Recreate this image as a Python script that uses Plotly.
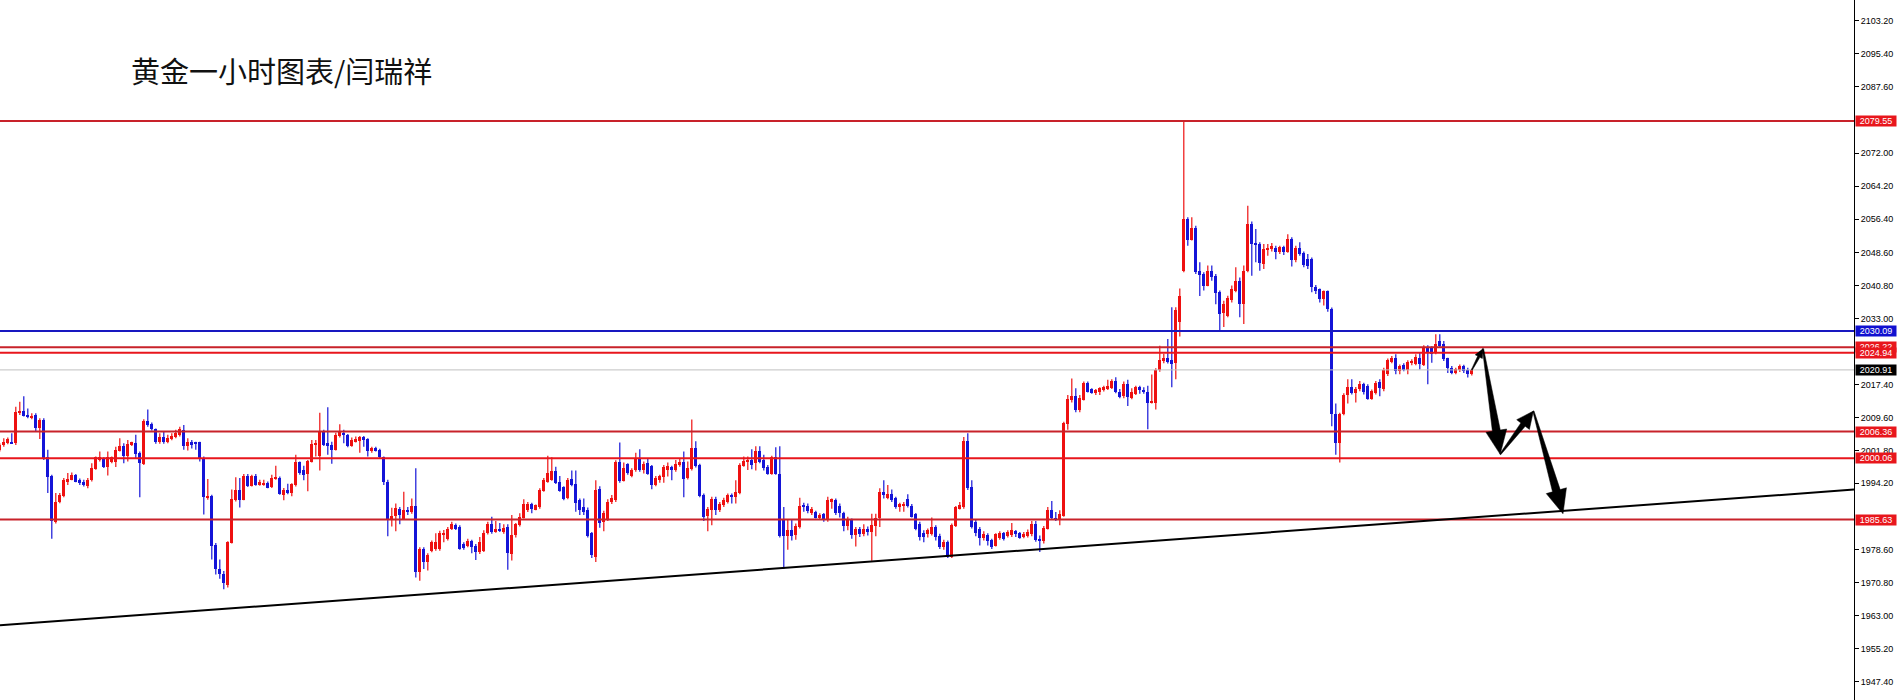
import math
import plotly.graph_objects as go

title_text = "黄金一小时图表/闫瑞祥"

opens = [
    2002.1, 2003.2, 2003.6, 2004.0, 2003.6, 2010.7, 2011.2, 2010.3, 2009.5, 2010.3,
    2007.1, 2009.1, 2000.3, 1995.8, 1985.0, 1989.7, 1991.1, 1994.6, 1995.0, 1996.2,
    1995.0, 1994.6, 1993.6, 1994.9, 1997.5, 1999.7, 2000.1, 1998.0, 1999.3, 1999.3,
    2001.9, 2003.0, 2000.6, 2003.2, 2003.6, 2001.3, 1998.8, 2008.9, 2008.2, 2006.9,
    2003.8, 2005.0, 2004.0, 2004.6, 2005.2, 2005.6, 2006.8, 2003.0, 2004.0, 2003.8,
    2003.8, 2000.1, 1990.9, 1991.1, 1979.6, 1974.0, 1972.9, 1970.3, 1980.1, 1990.3,
    1992.7, 1990.3, 1996.0, 1993.6, 1996.0, 1993.8, 1993.8, 1994.2, 1993.3, 1995.2,
    1995.4, 1991.5, 1992.7, 1991.9, 1993.8, 1999.1, 1997.4, 1996.4, 1999.3, 2003.1,
    2000.5, 2006.2, 2003.6, 2003.2, 2002.1, 2005.3, 2006.1, 2005.6, 2003.0, 2004.0,
    2004.2, 2005.0, 2004.6, 2001.7, 2002.6, 2002.1, 2000.4, 1994.6, 1985.6, 1986.4,
    1988.1, 1985.6, 1988.0, 1987.5, 1988.8, 1973.2, 1978.6, 1975.6, 1978.3, 1978.7,
    1978.7, 1981.9, 1981.1, 1983.5, 1984.3, 1983.9, 1979.8, 1979.5, 1980.6, 1979.5,
    1977.9, 1978.3, 1982.4, 1984.7, 1982.7, 1983.5, 1982.7, 1983.9, 1977.5, 1981.9,
    1984.3, 1986.1, 1987.8, 1989.4, 1988.0, 1988.5, 1992.4, 1994.6, 1995.0, 1997.0,
    1994.6, 1993.4, 1990.6, 1995.1, 1994.0, 1990.2, 1988.5, 1988.0, 1982.4, 1976.9,
    1992.8, 1985.1, 1985.5, 1989.7, 1990.2, 1999.1, 1994.8, 1998.8, 1995.8, 1997.2,
    1999.9, 1997.3, 1998.9, 1998.3, 1993.8, 1995.0, 1995.6, 1997.3, 1998.0, 1997.2,
    1998.5, 1999.3, 1995.4, 1997.5, 2002.5, 1998.5, 1991.4, 1986.5, 1987.8, 1990.4,
    1987.8, 1989.0, 1989.8, 1991.4, 1991.0, 1991.8, 1998.3, 1999.3, 1999.6, 1998.9,
    2001.9, 1999.7, 1998.1, 1996.4, 2000.3, 1996.4, 1985.5, 1981.7, 1983.1, 1981.9,
    1983.9, 1989.0, 1988.8, 1987.2, 1987.5, 1986.1, 1986.9, 1985.6, 1989.8, 1990.2,
    1988.8, 1987.1, 1984.0, 1985.5, 1981.9, 1983.3, 1982.3, 1983.3, 1982.7, 1984.0,
    1985.9, 1992.2, 1990.6, 1991.6, 1990.6, 1988.5, 1988.8, 1990.4, 1988.8, 1986.9,
    1984.7, 1982.4, 1982.3, 1982.3, 1983.9, 1981.7, 1979.1, 1980.3, 1976.8, 1984.0,
    1988.2, 1988.5, 2004.1, 1993.2, 1985.1, 1983.5, 1981.4, 1981.9, 1980.9, 1979.5,
    1981.4, 1982.4, 1981.7, 1981.9, 1982.9, 1982.4, 1981.5, 1981.7, 1982.2, 1984.7,
    1981.1, 1980.6, 1983.5, 1988.0, 1986.1, 1985.6, 1986.4, 2008.2, 2013.7, 2014.8,
    2011.5, 2013.8, 2017.9, 2016.4, 2015.4, 2015.6, 2016.1, 2016.4, 2016.6, 2018.4,
    2015.8, 2014.8, 2017.6, 2014.2, 2015.3, 2016.8, 2016.2, 2015.8, 2013.2, 2013.2,
    2020.8, 2023.0, 2023.7, 2023.3, 2022.5, 2032.1, 2044.3, 2056.5, 2051.6, 2054.3,
    2044.3, 2043.5, 2040.8, 2044.3, 2043.0, 2039.2, 2034.3, 2033.7, 2037.5, 2039.6,
    2041.9, 2036.4, 2044.3, 2055.3, 2050.8, 2050.6, 2045.9, 2049.2, 2049.4, 2049.6,
    2048.8, 2049.8, 2048.6, 2051.8, 2046.7, 2049.6, 2048.5, 2047.0, 2047.0, 2040.4,
    2040.0, 2037.6, 2039.4, 2035.2, 2010.4, 2003.7, 2010.4, 2014.9, 2016.9, 2015.4,
    2016.3, 2017.5, 2017.1, 2014.1, 2015.5, 2018.0, 2016.5, 2019.9, 2022.8, 2023.6,
    2020.6, 2022.0, 2020.9, 2022.5, 2022.2, 2023.8, 2022.0, 2026.2, 2026.2, 2024.8,
    2027.7, 2026.9, 2023.6, 2021.4, 2020.2, 2020.9, 2021.8, 2021.0, 2019.9,
]

highs = [
    2003.6, 2004.8, 2005.0, 2006.0, 2012.2, 2013.4, 2014.7, 2011.8, 2010.7, 2010.7,
    2009.5, 2009.5, 2002.1, 1996.2, 1991.9, 1991.9, 1995.4, 1996.6, 1996.7, 1996.4,
    1995.3, 1995.0, 1995.4, 1998.9, 2000.5, 2001.7, 2000.3, 2001.7, 2000.5, 2002.8,
    2004.8, 2003.6, 2004.4, 2004.0, 2005.6, 2001.7, 2009.3, 2011.6, 2008.5, 2007.1,
    2006.0, 2006.4, 2005.6, 2006.0, 2006.8, 2007.5, 2007.9, 2004.8, 2004.4, 2004.0,
    2004.0, 2000.5, 1995.2, 1991.5, 1980.1, 1976.2, 1973.5, 1980.5, 1992.7, 1995.6,
    1995.4, 1996.4, 1996.4, 1996.2, 1996.4, 1995.0, 1995.0, 1994.6, 1996.2, 1998.3,
    1995.8, 1993.1, 1994.1, 1994.2, 2000.9, 1999.3, 1998.3, 1999.7, 2004.4, 2004.4,
    2010.8, 2006.8, 2012.1, 2004.0, 2006.1, 2008.1, 2006.8, 2005.8, 2005.0, 2005.2,
    2005.3, 2005.3, 2004.8, 2002.8, 2002.8, 2002.3, 2000.5, 1995.0, 1988.4, 1989.4,
    1988.6, 1992.2, 1988.6, 1990.6, 1997.7, 1979.1, 1979.1, 1977.7, 1980.7, 1982.4,
    1983.0, 1983.2, 1983.9, 1985.1, 1984.7, 1984.3, 1980.3, 1981.1, 1980.9, 1979.9,
    1981.5, 1983.1, 1985.1, 1986.3, 1985.3, 1984.8, 1984.5, 1984.5, 1986.7, 1984.8,
    1987.1, 1990.4, 1989.8, 1989.6, 1989.2, 1993.0, 1995.4, 2000.7, 2000.3, 1998.1,
    1995.9, 1993.5, 1995.4, 1997.2, 1997.2, 1990.6, 1990.6, 1988.5, 1982.7, 1994.9,
    1993.5, 1987.7, 1990.4, 1991.4, 1999.6, 2003.8, 1999.1, 1998.9, 1997.7, 2001.4,
    2002.2, 1999.3, 2000.1, 1998.5, 1995.9, 1996.2, 1998.5, 1999.1, 1998.3, 1999.7,
    2000.1, 2001.7, 1999.3, 2009.2, 2004.1, 1998.8, 1991.8, 1988.6, 1991.0, 1991.0,
    1989.8, 1990.8, 1991.8, 1991.8, 1994.9, 1998.9, 2000.5, 2000.5, 2002.2, 2002.9,
    2002.9, 2000.9, 1998.5, 2000.7, 2002.7, 2002.9, 1988.6, 1985.5, 1985.5, 1984.7,
    1990.8, 1989.6, 1989.4, 1988.6, 1987.7, 1987.1, 1987.2, 1991.0, 1990.6, 1990.6,
    1989.4, 1987.5, 1986.3, 1985.9, 1983.9, 1983.9, 1984.5, 1984.0, 1987.0, 1987.0,
    1993.0, 1994.9, 1993.8, 1992.7, 1991.0, 1989.6, 1989.8, 1991.6, 1989.3, 1987.2,
    1985.1, 1983.1, 1983.5, 1986.1, 1984.3, 1982.3, 1980.9, 1980.7, 1984.7, 1988.8,
    1989.8, 2005.1, 2006.0, 1994.9, 1985.5, 1983.9, 1982.9, 1982.4, 1981.1, 1982.4,
    1982.9, 1982.7, 1983.1, 1984.8, 1983.2, 1982.7, 1982.7, 1983.3, 1985.3, 1985.3,
    1981.9, 1984.1, 1988.6, 1990.0, 1987.4, 1987.8, 2008.7, 2015.0, 2018.9, 2016.6,
    2015.0, 2018.2, 2018.2, 2016.6, 2016.4, 2016.8, 2017.2, 2018.6, 2018.7, 2019.2,
    2016.4, 2018.2, 2018.6, 2016.6, 2017.2, 2017.2, 2016.8, 2017.2, 2019.8, 2021.3,
    2026.6, 2024.7, 2028.2, 2035.7, 2035.7, 2040.1, 2079.55, 2056.9, 2056.9, 2054.9,
    2046.3, 2043.9, 2045.5, 2045.5, 2043.5, 2039.6, 2037.2, 2038.4, 2040.8, 2045.1,
    2042.7, 2045.5, 2059.6, 2055.9, 2054.1, 2051.0, 2050.6, 2050.6, 2050.8, 2050.2,
    2050.2, 2050.2, 2052.9, 2052.2, 2050.2, 2051.0, 2048.8, 2048.2, 2047.4, 2040.9,
    2040.1, 2039.6, 2039.6, 2035.6, 2013.0, 2010.8, 2015.4, 2018.7, 2018.7, 2016.9,
    2018.3, 2017.9, 2017.5, 2016.3, 2018.3, 2018.7, 2021.4, 2023.6, 2024.2, 2024.6,
    2022.2, 2022.5, 2023.2, 2023.4, 2024.6, 2025.0, 2026.7, 2026.7, 2026.5, 2029.3,
    2029.3, 2027.7, 2023.8, 2021.8, 2021.4, 2022.2, 2022.1, 2021.4, 2021.2,
]

lows = [
    2001.7, 2002.8, 2003.4, 2003.5, 2003.2, 2010.3, 2009.9, 2009.5, 2009.3, 2006.4,
    2004.6, 1999.7, 1991.9, 1981.1, 1984.7, 1989.5, 1990.9, 1993.8, 1994.9, 1994.4,
    1993.8, 1993.4, 1993.0, 1994.6, 1997.4, 1999.3, 1997.8, 1996.0, 1998.9, 1998.0,
    2001.7, 1998.9, 1999.3, 2003.0, 2000.1, 1990.9, 1998.5, 2007.5, 2006.6, 2003.5,
    2003.5, 2003.5, 2003.6, 2004.3, 2004.8, 2005.2, 2002.1, 2001.9, 2002.4, 2002.1,
    1999.3, 1986.8, 1990.3, 1976.2, 1972.7, 1971.7, 1969.2, 1969.6, 1980.0, 1989.9,
    1988.5, 1990.2, 1993.3, 1993.4, 1993.6, 1993.6, 1993.6, 1993.0, 1993.1, 1995.0,
    1991.5, 1990.2, 1991.6, 1991.1, 1993.4, 1996.2, 1994.9, 1992.3, 1999.1, 2000.5,
    1997.2, 2003.0, 2000.9, 1998.8, 2001.9, 2005.0, 2003.6, 2002.7, 2002.8, 2003.8,
    2001.4, 2002.8, 2000.5, 2001.4, 2001.7, 2000.1, 1993.8, 1981.7, 1984.0, 1982.9,
    1984.5, 1985.5, 1986.7, 1987.0, 1972.0, 1971.2, 1974.0, 1973.6, 1977.9, 1978.3,
    1978.3, 1980.3, 1980.7, 1983.2, 1983.2, 1978.5, 1978.5, 1979.1, 1977.7, 1976.1,
    1977.5, 1978.0, 1982.1, 1982.3, 1982.5, 1982.7, 1982.3, 1973.8, 1976.0, 1981.4,
    1984.0, 1985.9, 1987.4, 1987.1, 1987.8, 1988.2, 1992.2, 1994.3, 1994.8, 1994.0,
    1992.2, 1990.2, 1990.4, 1993.5, 1987.5, 1986.7, 1986.7, 1981.4, 1976.6, 1975.6,
    1983.7, 1982.9, 1985.3, 1989.3, 1989.8, 1994.3, 1994.6, 1996.2, 1995.6, 1996.9,
    1996.9, 1996.5, 1996.2, 1992.8, 1993.5, 1994.3, 1994.3, 1995.8, 1994.9, 1996.9,
    1998.1, 1990.9, 1995.1, 1997.2, 1997.9, 1990.9, 1985.3, 1982.9, 1984.3, 1986.7,
    1987.4, 1988.6, 1989.4, 1989.4, 1989.4, 1991.6, 1998.1, 1997.3, 1997.5, 1997.2,
    1998.9, 1997.2, 1996.2, 1996.2, 1996.2, 1981.4, 1974.0, 1978.5, 1980.7, 1980.9,
    1983.5, 1987.5, 1987.1, 1986.7, 1985.9, 1985.6, 1985.1, 1985.1, 1988.2, 1986.7,
    1986.1, 1982.9, 1983.1, 1981.1, 1979.3, 1981.5, 1981.7, 1981.9, 1975.9, 1981.7,
    1983.9, 1990.6, 1990.4, 1989.8, 1988.2, 1987.5, 1987.5, 1988.5, 1986.1, 1983.1,
    1980.7, 1980.3, 1981.4, 1981.9, 1980.7, 1978.7, 1978.5, 1976.6, 1976.6, 1983.9,
    1988.0, 1988.2, 1992.6, 1983.5, 1981.7, 1979.5, 1980.7, 1979.5, 1978.7, 1979.3,
    1980.9, 1980.7, 1981.4, 1981.5, 1981.5, 1981.1, 1981.2, 1981.4, 1981.7, 1980.4,
    1978.0, 1980.0, 1983.3, 1985.7, 1985.3, 1984.3, 1986.3, 2006.8, 2013.2, 2010.9,
    2010.9, 2013.7, 2015.6, 2015.3, 2015.0, 2015.0, 2015.8, 2016.2, 2016.4, 2015.4,
    2014.2, 2014.2, 2012.4, 2014.0, 2015.0, 2015.3, 2015.3, 2006.9, 2013.0, 2011.6,
    2020.5, 2022.5, 2022.4, 2016.8, 2018.7, 2028.8, 2043.9, 2050.2, 2051.4, 2043.5,
    2038.3, 2039.6, 2040.6, 2041.9, 2036.4, 2030.2, 2031.0, 2033.3, 2036.8, 2039.2,
    2033.3, 2031.7, 2043.9, 2043.1, 2046.3, 2044.3, 2044.7, 2047.8, 2048.8, 2047.0,
    2048.2, 2048.0, 2048.5, 2045.3, 2046.3, 2047.8, 2045.1, 2044.7, 2039.2, 2038.8,
    2036.8, 2036.1, 2034.6, 2007.6, 2000.9, 1999.1, 2010.2, 2013.0, 2015.1, 2013.2,
    2015.9, 2015.1, 2013.9, 2013.9, 2015.1, 2014.7, 2015.9, 2019.5, 2022.5, 2019.9,
    2019.9, 2020.6, 2019.9, 2022.0, 2022.0, 2021.0, 2021.8, 2017.5, 2022.6, 2024.6,
    2026.2, 2023.0, 2020.2, 2019.9, 2019.9, 2020.4, 2020.2, 2019.1, 2019.6,
]

closes = [
    2003.2, 2004.0, 2004.6, 2003.6, 2010.9, 2011.2, 2010.0, 2009.7, 2010.0, 2007.1,
    2009.1, 2000.1, 1995.6, 1985.2, 1989.7, 1991.5, 1995.0, 1995.2, 1996.2, 1994.6,
    1994.2, 1993.8, 1995.0, 1997.8, 2000.3, 2000.3, 1998.0, 2000.3, 2000.3, 2002.1,
    2003.0, 2000.6, 2003.4, 2003.8, 2001.1, 1998.9, 2008.9, 2007.9, 2006.9, 2003.8,
    2005.0, 2003.8, 2004.8, 2005.3, 2006.1, 2006.9, 2003.0, 2004.0, 2003.2, 2003.5,
    2000.1, 1990.9, 1991.3, 1979.3, 1973.9, 1972.7, 1970.6, 1980.3, 1990.5, 1992.7,
    1990.3, 1996.0, 1993.6, 1995.8, 1993.8, 1994.4, 1994.2, 1993.1, 1995.4, 1995.6,
    1991.6, 1992.7, 1991.9, 1994.0, 1999.1, 1996.7, 1996.2, 1999.5, 2003.4, 2003.6,
    2006.2, 2003.2, 2003.2, 2002.1, 2005.6, 2006.4, 2005.6, 2003.0, 2004.4, 2004.6,
    2005.0, 2004.4, 2001.7, 2002.6, 2001.9, 2000.4, 1994.6, 1985.6, 1986.4, 1988.3,
    1986.7, 1988.0, 1987.5, 1988.8, 1973.2, 1978.6, 1975.6, 1977.2, 1980.3, 1980.3,
    1982.4, 1982.4, 1983.5, 1984.5, 1983.5, 1978.7, 1979.0, 1980.6, 1979.1, 1977.9,
    1980.3, 1982.4, 1984.7, 1982.7, 1983.5, 1982.9, 1983.7, 1977.7, 1981.9, 1984.5,
    1986.3, 1989.3, 1989.4, 1988.2, 1989.0, 1992.6, 1994.9, 1996.7, 1997.0, 1994.3,
    1992.4, 1990.5, 1994.9, 1993.8, 1989.6, 1988.0, 1987.5, 1981.7, 1977.2, 1992.6,
    1984.8, 1987.1, 1989.8, 1990.6, 1999.1, 1994.8, 1997.7, 1996.7, 1997.3, 2000.1,
    1997.2, 1998.8, 1996.4, 1993.8, 1995.4, 1995.9, 1998.1, 1998.3, 1997.3, 1998.8,
    1999.3, 1995.1, 1997.7, 2002.5, 1998.3, 1991.2, 1986.3, 1988.2, 1990.4, 1987.8,
    1989.3, 1990.2, 1991.4, 1991.0, 1992.2, 1998.5, 1999.5, 1999.7, 1998.5, 2001.9,
    1999.1, 1997.7, 1996.4, 2000.3, 1996.4, 1981.7, 1981.7, 1983.1, 1981.7, 1984.0,
    1988.8, 1988.5, 1987.7, 1988.2, 1986.1, 1986.7, 1985.6, 1990.2, 1990.4, 1987.1,
    1987.1, 1984.0, 1985.5, 1981.9, 1983.3, 1982.3, 1983.3, 1982.7, 1984.3, 1986.1,
    1992.2, 1991.4, 1991.6, 1990.2, 1988.5, 1989.3, 1989.4, 1988.8, 1986.3, 1983.5,
    1981.5, 1981.5, 1983.1, 1983.9, 1981.5, 1979.1, 1980.3, 1976.8, 1984.3, 1988.5,
    1989.0, 2004.1, 1993.0, 1983.9, 1982.4, 1981.4, 1982.3, 1980.6, 1979.1, 1982.3,
    1982.4, 1981.1, 1982.7, 1983.1, 1982.3, 1981.4, 1982.3, 1982.7, 1984.7, 1980.8,
    1980.6, 1983.7, 1988.0, 1985.9, 1985.6, 1986.9, 2008.3, 2014.0, 2014.8, 2011.5,
    2014.2, 2017.9, 2015.8, 2015.4, 2016.1, 2016.6, 2016.8, 2017.2, 2018.4, 2015.8,
    2014.6, 2017.6, 2014.6, 2015.6, 2016.8, 2016.1, 2015.6, 2013.2, 2013.5, 2020.8,
    2023.3, 2023.7, 2022.7, 2022.4, 2035.1, 2038.3, 2056.5, 2051.6, 2054.3, 2043.9,
    2043.3, 2040.8, 2044.3, 2042.7, 2039.0, 2034.1, 2036.4, 2037.8, 2040.0, 2041.9,
    2036.4, 2044.3, 2055.3, 2050.6, 2050.3, 2046.1, 2049.4, 2049.6, 2050.2, 2048.8,
    2049.8, 2048.6, 2051.8, 2046.7, 2049.6, 2048.2, 2045.6, 2045.5, 2040.4, 2039.6,
    2037.6, 2039.4, 2035.3, 2010.4, 2003.7, 2010.6, 2015.1, 2016.9, 2015.4, 2016.5,
    2017.5, 2015.7, 2014.1, 2015.9, 2017.9, 2016.7, 2020.9, 2023.2, 2023.8, 2020.6,
    2021.8, 2021.0, 2022.8, 2023.0, 2024.0, 2022.2, 2026.3, 2025.0, 2024.6, 2026.9,
    2026.5, 2023.4, 2021.4, 2020.2, 2021.2, 2021.8, 2020.6, 2019.9, 2020.91,
]

# horizontal price levels drawn on the chart
level_prices = [2079.55, 2030.09, 2026.22, 2024.94, 2020.91, 2006.36, 2000.06, 1985.63]
level_kinds = ["red_dark", "blue", "red_dark", "red", "current", "red_dark", "red", "red_dark"]

# right axis tick labels
tick_vals = [2103.20, 2095.40, 2087.60, 2072.00, 2064.20, 2056.40, 2048.60, 2040.80,
             2033.00, 2017.40, 2009.60, 2001.80, 1994.20, 1978.60, 1970.80, 1963.00,
             1955.20, 1947.40]

# rising support trend line (bar index, price)
trend_bars = [0.05, 463.55]
trend_prices = [1960.7, 1992.7]

# forecast path drawn with arrows (bar index, price)
forecast_bars = [368, 370.8, 375.1, 383.4, 390.8]
forecast_prices = [2020.91, 2025.9, 2001.0, 2011.2, 1987.0]

# ---------------------------------------------------------------
UP = "#ee1111"
DOWN = "#1414d8"
RED_LINE = "#e8161c"
RED_DARK = "#c8222a"
BLUE_LINE = "#1818c0"

W, H = 1900, 700
MR = 46
x_rng = [0.05, 463.55]
y_rng = [1943.1, 2108.1]
plot_w = W - MR
plot_h = H
sx = plot_w / (x_rng[1] - x_rng[0])
sy = plot_h / (y_rng[1] - y_rng[0])

bars = list(range(len(closes)))
body_base = [min(o, c) for o, c in zip(opens, closes)]
body_h = [max(abs(c - o), 0.24) for o, c in zip(opens, closes)]
colors = [UP if c >= o else DOWN for o, c in zip(opens, closes)]

fig = go.Figure()

for col in (UP, DOWN):
    wx, wy = [], []
    for i, (o, h, l, c) in enumerate(zip(opens, highs, lows, closes)):
        if (UP if c >= o else DOWN) != col:
            continue
        wx += [i, i, None]
        wy += [l, h, None]
    fig.add_trace(go.Scatter(x=wx, y=wy, mode="lines", line=dict(color=col, width=1.2),
                             hoverinfo="skip", showlegend=False, connectgaps=False))

fig.add_trace(go.Bar(x=bars, y=body_h, base=body_base, width=0.74,
                     marker=dict(color=colors, line=dict(width=0)),
                     hoverinfo="skip", showlegend=False))

shapes = []
annotations = []

line_style = {
    "red": (RED_LINE, 2),
    "red_dark": (RED_DARK, 2),
    "blue": (BLUE_LINE, 2),
    "current": ("#c0c0c0", 1),
}
box_color = {"red": "#e8161c", "red_dark": "#e8161c", "blue": "#1010d0", "current": "#000000"}

for p, k in zip(level_prices, level_kinds):
    col, lw = line_style[k]
    shapes.append(dict(type="line", xref="paper", x0=0, x1=1, yref="y", y0=p, y1=p,
                       line=dict(color=col, width=lw), layer="above"))

for p, k in zip(level_prices, level_kinds):
    annotations.append(dict(text=f"{p:.2f}", xref="paper", x=1, xanchor="left", xshift=1,
                            yref="y", y=p, yanchor="middle", showarrow=False,
                            bgcolor=box_color[k], font=dict(color="white", size=9,
                            family="Liberation Sans, Arial"),
                            width=40, height=10, borderpad=0, align="center"))

shapes.append(dict(type="line", xref="x", yref="y", x0=trend_bars[0], y0=trend_prices[0],
                   x1=trend_bars[1], y1=trend_prices[1], line=dict(color="black", width=2),
                   layer="above"))


def arrow_path(b0, p0, b1, p1, w0, w1, head_w, head_l):
    X0, Y0 = b0 * sx, p0 * sy
    X1, Y1 = b1 * sx, p1 * sy
    dx, dy = X1 - X0, Y1 - Y0
    d = math.hypot(dx, dy)
    ux, uy = dx / d, dy / d
    nx, ny = -uy, ux
    bx, by = X1 - ux * head_l, Y1 - uy * head_l
    pts = [
        (X0 + nx * w0 / 2, Y0 + ny * w0 / 2),
        (bx + nx * w1 / 2, by + ny * w1 / 2),
        (bx + nx * head_w / 2, by + ny * head_w / 2),
        (X1, Y1),
        (bx - nx * head_w / 2, by - ny * head_w / 2),
        (bx - nx * w1 / 2, by - ny * w1 / 2),
        (X0 - nx * w0 / 2, Y0 - ny * w0 / 2),
    ]
    return "M " + " L ".join(f"{x / sx:.4f},{y / sy:.4f}" for x, y in pts) + " Z"


arrow_sizes = [(1.0, 2.5, 8, 9), (1.2, 8, 21, 24), (1.2, 5.5, 16, 17), (1.2, 8, 21, 24)]
for k in range(len(forecast_bars) - 1):
    w0, w1, hw, hl = arrow_sizes[k]
    shapes.append(dict(type="path", xref="x", yref="y",
                       path=arrow_path(forecast_bars[k], forecast_prices[k],
                                       forecast_bars[k + 1], forecast_prices[k + 1],
                                       w0, w1, hw, hl),
                       fillcolor="black", line=dict(color="black", width=0.5), layer="above"))

annotations.append(dict(text=title_text, xref="paper", yref="paper", x=129 / plot_w, y=1 - 70 / plot_h,
                        xanchor="left", yanchor="middle", showarrow=False,
                        font=dict(family="Noto Sans CJK SC", size=29, color="#111111")))

fig.update_layout(
    width=W, height=H,
    margin=dict(l=0, r=MR, t=0, b=0),
    paper_bgcolor="white", plot_bgcolor="white",
    barmode="overlay", bargap=0,
    showlegend=False, hovermode=False,
    shapes=shapes, annotations=annotations,
    xaxis=dict(range=x_rng, visible=False, showgrid=False, zeroline=False, fixedrange=True),
    yaxis=dict(range=y_rng, side="right", tickvals=tick_vals,
               ticktext=[f"{v:.2f}" for v in tick_vals],
               ticks="outside", ticklen=4, tickcolor="black", tickwidth=1,
               showline=True, linecolor="black", linewidth=1, mirror=False,
               showgrid=False, zeroline=False, automargin=False,
               tickfont=dict(family="Liberation Sans, Arial", size=9, color="black")),
)

fig.write_html("out.html", config={"displayModeBar": False},
               post_script="document.body.style.margin='0';document.body.style.overflow='hidden';")
